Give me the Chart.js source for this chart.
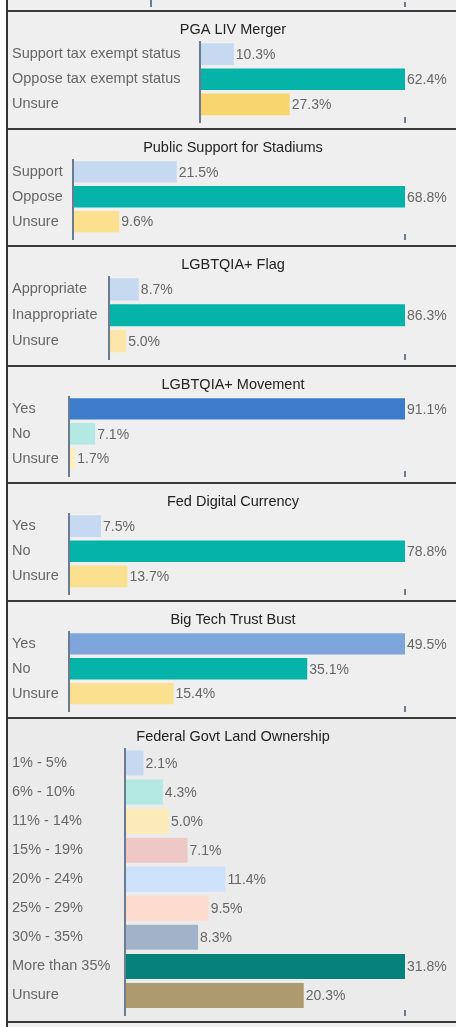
<!DOCTYPE html>
<html>
<head>
<meta charset="utf-8">
<script src="https://cdn.jsdelivr.net/npm/chart.js"></script>
<style>
  body { margin: 0; background: #fff; }
  #wrap { margin-left: 6px; border-left: 2px solid #333; width: 450px; }
  .panel { background: #efefef; border-top: 2px solid #3a3a3a; }
  .panel canvas { display: block; }
  #strip { height: 10px; background: #efefef; overflow: hidden; position: relative; }
  #strip canvas { position: absolute; left: 0; bottom: 0; }
  #tail { height: 4px; }
</style>
</head>
<body>
<div id="wrap">
  <div id="strip"><canvas id="prevChart" width="448" height="30"></canvas></div>
  <div class="panel"><canvas id="pgaChart" width="448" height="116"></canvas></div>
  <div class="panel"><canvas id="stadiumChart" width="448" height="115"></canvas></div>
  <div class="panel"><canvas id="flagChart" width="448" height="118"></canvas></div>
  <div class="panel"><canvas id="movementChart" width="448" height="115"></canvas></div>
  <div class="panel"><canvas id="currencyChart" width="448" height="116"></canvas></div>
  <div class="panel"><canvas id="techChart" width="448" height="115"></canvas></div>
  <div class="panel" style="background:#ebebeb"><canvas id="landChart" width="448" height="302"></canvas></div>
  <div class="panel" id="tail"></div>
</div>
<script>
const pgaLabels = ['Support tax exempt status', 'Oppose tax exempt status', 'Unsure'];
const pgaValues = [10.3, 62.4, 27.3];

const stadiumLabels = ['Support', 'Oppose', 'Unsure'];
const stadiumValues = [21.5, 68.8, 9.6];

const flagLabels = ['Appropriate', 'Inappropriate', 'Unsure'];
const flagValues = [8.7, 86.3, 5.0];

const movementLabels = ['Yes', 'No', 'Unsure'];
const movementValues = [91.1, 7.1, 1.7];

const currencyLabels = ['Yes', 'No', 'Unsure'];
const currencyValues = [7.5, 78.8, 13.7];

const techLabels = ['Yes', 'No', 'Unsure'];
const techValues = [49.5, 35.1, 15.4];

const landLabels = ['1% - 5%', '6% - 10%', '11% - 14%', '15% - 19%', '20% - 24%', '25% - 29%', '30% - 35%', 'More than 35%', 'Unsure'];
const landValues = [2.1, 4.3, 5.0, 7.1, 11.4, 9.5, 8.3, 31.8, 20.3];

const fontFamily = '"Liberation Sans", Arial, sans-serif';
Chart.defaults.font.family = fontFamily;
Chart.defaults.color = '#666';

const tickColor = '#6b7c90';

const valueLabels = {
  id: 'valueLabels',
  afterDatasetsDraw(chart) {
    if (!chart.data.datasets.length) return;
    const ctx = chart.ctx;
    const values = chart.data.datasets[0].data;
    ctx.save();
    ctx.font = '14px ' + fontFamily;
    ctx.fillStyle = '#666';
    ctx.textBaseline = 'middle';
    chart.getDatasetMeta(0).data.forEach((bar, i) => {
      ctx.fillText(values[i].toFixed(1) + '%', bar.x + 2, bar.y + 1);
    });
    ctx.restore();
  }
};

// centred on the whole panel, not on the padded chart box
const panelTitle = {
  id: 'panelTitle',
  afterDraw(chart, args, opts) {
    if (!opts.text) return;
    const ctx = chart.ctx;
    ctx.save();
    ctx.font = '14.5px ' + fontFamily;
    ctx.fillStyle = '#222';
    ctx.textAlign = 'center';
    ctx.textBaseline = 'middle';
    ctx.fillText(opts.text, chart.width / 2 + 1, 18);
    ctx.restore();
  }
};

function makeChart(id, title, labels, values, colors, axisWidth) {
  const max = values.length ? Math.max(...values) : 1;
  return new Chart(document.getElementById(id).getContext('2d'), {
    type: 'bar',
    data: {
      labels: labels,
      datasets: values.length ? [{
        data: values,
        backgroundColor: colors,
        barPercentage: 0.86,
        categoryPercentage: 1
      }] : []
    },
    options: {
      indexAxis: 'y',
      responsive: false,
      animation: false,
      layout: { padding: { left: 4, right: 51, top: title ? 29.5 : 0, bottom: title ? 5 : 3 } },
      plugins: {
        legend: { display: false },
        tooltip: { enabled: false },
        title: { display: false },
        panelTitle: { text: title }
      },
      scales: {
        x: {
          type: 'linear',
          min: 0,
          max: max,
          border: { display: false },
          grid: { drawOnChartArea: false, drawTicks: true, tickLength: title ? 6 : 5, color: tickColor, lineWidth: 2 },
          ticks: { display: false },
          afterBuildTicks: (scale) => { scale.ticks = [{ value: 0 }, { value: max }]; }
        },
        y: {
          type: 'category',
          display: true,
          border: { display: true, color: tickColor, width: 2 },
          grid: { display: false },
          ticks: { crossAlign: 'far', color: '#666', font: { size: 14.5 }, padding: 0 },
          afterFit: (scale) => { scale.width = axisWidth; }
        }
      }
    },
    plugins: [valueLabels, panelTitle]
  });
}

makeChart('prevChart', '', [], [], [], 139);
makeChart('pgaChart', 'PGA LIV Merger', pgaLabels, pgaValues,
  ['#c6d9f1', '#05b3a9', '#f8d66d'], 188);
makeChart('stadiumChart', 'Public Support for Stadiums', stadiumLabels, stadiumValues,
  ['#c6d9f1', '#05b3a9', '#fbe08f'], 61);
makeChart('flagChart', 'LGBTQIA+ Flag', flagLabels, flagValues,
  ['#c6d9f1', '#05b3a9', '#fce7a9'], 97);
makeChart('movementChart', 'LGBTQIA+ Movement', movementLabels, movementValues,
  ['#3d7ccb', '#b3e9e2', '#fdefc0'], 57);
makeChart('currencyChart', 'Fed Digital Currency', currencyLabels, currencyValues,
  ['#c6d9f1', '#05b3a9', '#fbe08f'], 57);
makeChart('techChart', 'Big Tech Trust Bust', techLabels, techValues,
  ['#7ea6dc', '#05b3a9', '#fbe08f'], 57);
makeChart('landChart', 'Federal Govt Land Ownership', landLabels, landValues,
  ['#c6d9f1', '#b3e9e2', '#fcebb8', '#edc8c4', '#cde1fb', '#fedbcf', '#a2b3c9', '#06827a', '#ad9b6f'], 113);
</script>
</body>
</html>
